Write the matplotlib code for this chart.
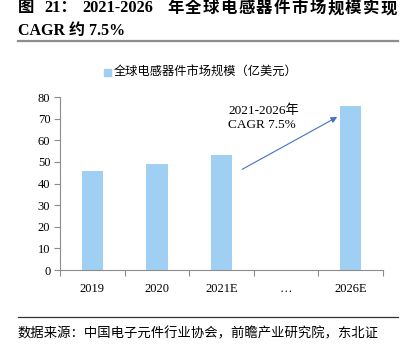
import matplotlib.pyplot as plt
from matplotlib.lines import Line2D
import numpy as np

plt.rcParams['font.family'] = ['Liberation Serif', 'Noto Sans CJK SC']

# 全球电感器件市场规模（亿美元）
years = ['2019', '2020', '2021E', '…', '2026E']
market = [46, 49, 53, 0, 76]
yticks = [0, 10, 20, 30, 40, 50, 60, 70, 80]

bar_color = '#A0CFF4'
axis_color = '#8C8C8C'

fig = plt.figure(figsize=(4.08, 3.48), dpi=100)
ax = fig.add_axes([0.147, 0.224, 0.792, 0.497])

x = np.arange(len(years))
vals = np.array(market, dtype=float)
mask = vals > 0
ax.bar(x[mask], vals[mask], width=0.33, color=bar_color, zorder=2)

ax.set_xlim(-0.5, len(years) - 0.5)
ax.set_ylim(0, 80)
ax.set_yticks(yticks)
ax.set_yticklabels([str(v) for v in yticks], fontsize=9)

# 类别标签放在中间，刻度线放在类别边界
ax.set_xticks(np.arange(-0.5, len(years)), minor=False)
ax.set_xticklabels([])
ax.set_xticks(x, minor=True)
ax.set_xticklabels(years, minor=True, fontsize=9)
ax.tick_params(axis='x', which='minor', length=0, pad=9)
ax.tick_params(axis='x', which='major', length=4, color=axis_color, direction='out')
ax.tick_params(axis='y', length=4, color=axis_color, direction='out', pad=3)

for s in ['top', 'right']:
    ax.spines[s].set_visible(False)
for s in ['left', 'bottom']:
    ax.spines[s].set_color(axis_color)
    ax.spines[s].set_linewidth(0.8)

# CAGR 箭头与说明
ax.annotate('', xy=(3.79, 70.8), xytext=(2.32, 46.6),
            arrowprops=dict(arrowstyle='-|>', color='#4472C4', lw=0.8,
                            mutation_scale=9, shrinkA=0, shrinkB=0))
ax.text(2.1, 70.5, '2021-2026年\nCAGR 7.5%', fontsize=9.5, ha='left', va='center',
        linespacing=1.2)

# 图例
fig.patches.append(plt.Rectangle((0.256, 0.782), 0.016, 0.019, transform=fig.transFigure,
                                 color=bar_color, figure=fig))
fig.text(0.278, 0.791, '全球电感器件市场规模（亿美元）', fontsize=8.8,
         family=['Noto Sans CJK SC'], va='center', ha='left')

# 标题：分段排开，字距较宽
title_y = 0.976
title_kw = dict(fontsize=11.8, fontweight='bold', va='center', ha='left')
fig.text(18 / 408, title_y, '图', **title_kw)
fig.text(44 / 408, title_y, '21：', **title_kw)
fig.text(82 / 408, title_y, '2021-2026', **title_kw)
title_cn = '年全球电感器件市场规模实现'
for i, ch in enumerate(title_cn):
    fig.text((167 + i * 17.8) / 408, title_y, ch, family=['Noto Sans CJK SC'], **title_kw)
fig.text(0.044, 0.912, 'CAGR 约 7.5%', fontsize=11.5, fontweight='bold',
         va='center', ha='left')
fig.add_artist(Line2D([0.044, 0.976], [0.883, 0.883], color='#8C8C8C', lw=1.6,
                      transform=fig.transFigure))
fig.add_artist(Line2D([0.044, 0.976], [0.089, 0.089], color='#333333', lw=0.9,
                      transform=fig.transFigure))
fig.text(0.044, 0.043, '数据来源：中国电子元件行业协会，前瞻产业研究院，东北证', fontsize=9.6,
         family=['Noto Sans CJK SC'], va='center', ha='left')

fig.savefig('out.png', dpi=100)
